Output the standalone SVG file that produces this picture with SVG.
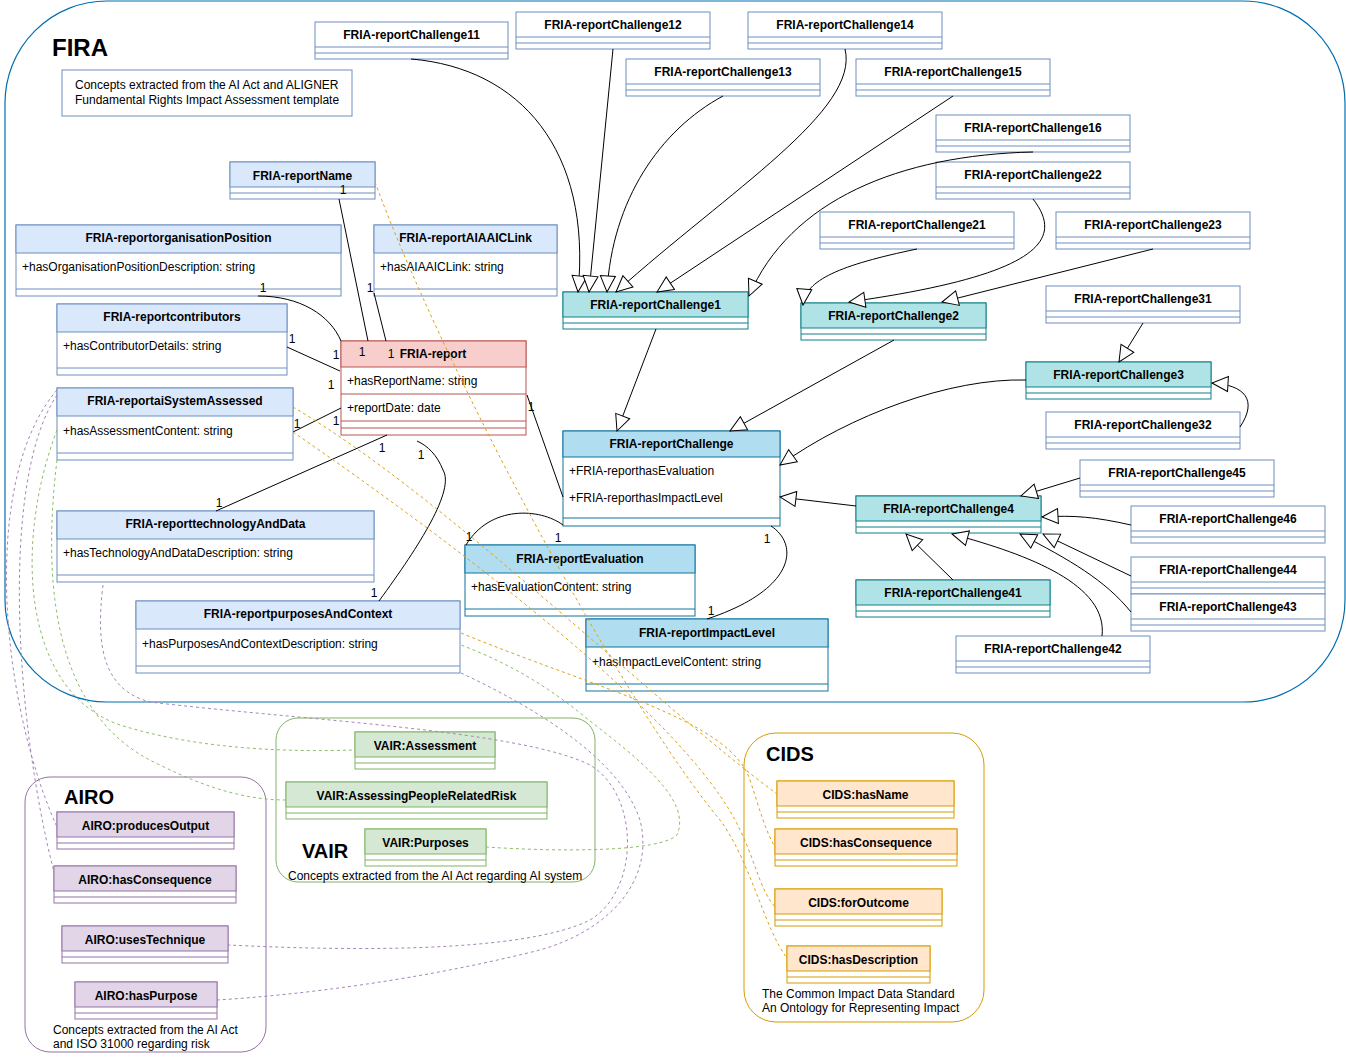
<svg xmlns="http://www.w3.org/2000/svg" width="1346" height="1057" viewBox="0 0 1346 1057">
<style>
text{font-family:"Liberation Sans",Arial,Helvetica,sans-serif;font-size:12px;fill:#000}
.n{font-weight:bold;text-anchor:middle}
.m{text-anchor:middle}
.ttl{font-weight:bold;font-size:24px}
.sttl{font-weight:bold;font-size:20px}
.bw{fill:#fff;stroke:#6c8ebf}
.sw{stroke:#6c8ebf}
.ht{fill:#b0e3e6;stroke:#0e8088}
.bt{fill:#fff;stroke:#0e8088}
.st{stroke:#0e8088}
.hb{fill:#b1ddf0;stroke:#10739e}
.bb{fill:#fff;stroke:#10739e}
.sb{stroke:#10739e}
.hl{fill:#dae8fc;stroke:#6c8ebf}
.hr{fill:#f8cecc;stroke:#b85450}
.br{fill:#fff;stroke:#b85450}
.sr{stroke:#b85450}
.hg{fill:#d5e8d4;stroke:#82b366}
.bg{fill:#fff;stroke:#82b366}
.sg{stroke:#82b366}
.hp{fill:#e1d5e7;stroke:#9673a6}
.bp{fill:#fff;stroke:#9673a6}
.sp{stroke:#9673a6}
.ho{fill:#ffe6cc;stroke:#d79b00}
.bo{fill:#fff;stroke:#d79b00}
.so{stroke:#d79b00}
.e{fill:none;stroke:#000;stroke-width:1}
.i{marker-end:url(#gen)}
.d{fill:none;stroke-width:1;stroke-dasharray:3 3}
.do{stroke:#dca21a}
.dg{stroke:#8fbd6a}
.dp{stroke:#a685ba}
</style>
<defs>
<marker id="gen" viewBox="0 0 18 18" refX="17" refY="9" markerWidth="18" markerHeight="18" markerUnits="userSpaceOnUse" orient="auto">
<path d="M1,1.5 L17,9 L1,16.5 Z" fill="#fff" stroke="#000" stroke-width="1"/>
</marker>
</defs>

<!-- ontology containers -->
<g id="fira">
<rect x="5" y="1" width="1340" height="701" rx="102" fill="none" stroke="#006eaf" stroke-width="1.2"/>
<text x="52" y="56" class="ttl">FIRA</text>
<rect x="62" y="70" width="290" height="46" class="bw"/>
<text x="75" y="89">Concepts extracted from the AI Act and ALIGNER</text>
<text x="75" y="104">Fundamental Rights Impact Assessment template</text>
</g>
<g id="vair">
<rect x="276" y="718" width="319" height="164" rx="22" fill="none" stroke="#82b366"/>
<text x="302" y="858" class="sttl">VAIR</text>
<text x="288" y="880">Concepts extracted from the AI Act regarding AI system</text>
</g>
<g id="airo">
<rect x="25" y="777" width="241" height="275" rx="25" fill="none" stroke="#9673a6"/>
<text x="64" y="804" class="sttl">AIRO</text>
<text x="53" y="1034">Concepts extracted from the AI Act</text>
<text x="53" y="1048">and ISO 31000 regarding risk</text>
</g>
<g id="cids">
<rect x="744" y="733" width="240" height="289" rx="32" fill="none" stroke="#d79b00"/>
<text x="766" y="761" class="sttl">CIDS</text>
<text x="762" y="998">The Common Impact Data Standard</text>
<text x="762" y="1012">An Ontology for Representing Impact</text>
</g>

<!-- challenge classes (white) -->
<g id="challenge11"><rect x="315" y="22" width="193" height="37" class="bw"/><path d="M315,47H508M315,53H508" class="sw"/><text x="411.5" y="39" class="n">FRIA-reportChallenge11</text></g>
<g id="challenge12"><rect x="516" y="12" width="194" height="37" class="bw"/><path d="M516,37H710M516,43H710" class="sw"/><text x="613" y="29" class="n">FRIA-reportChallenge12</text></g>
<g id="challenge14"><rect x="748" y="12" width="194" height="37" class="bw"/><path d="M748,37H942M748,43H942" class="sw"/><text x="845" y="29" class="n">FRIA-reportChallenge14</text></g>
<g id="challenge13"><rect x="626" y="59" width="194" height="37" class="bw"/><path d="M626,84H820M626,90H820" class="sw"/><text x="723" y="76" class="n">FRIA-reportChallenge13</text></g>
<g id="challenge15"><rect x="856" y="59" width="194" height="37" class="bw"/><path d="M856,84H1050M856,90H1050" class="sw"/><text x="953" y="76" class="n">FRIA-reportChallenge15</text></g>
<g id="challenge16"><rect x="936" y="115" width="194" height="37" class="bw"/><path d="M936,140H1130M936,146H1130" class="sw"/><text x="1033" y="132" class="n">FRIA-reportChallenge16</text></g>
<g id="challenge22"><rect x="936" y="162" width="194" height="37" class="bw"/><path d="M936,187H1130M936,193H1130" class="sw"/><text x="1033" y="179" class="n">FRIA-reportChallenge22</text></g>
<g id="challenge21"><rect x="820" y="212" width="194" height="37" class="bw"/><path d="M820,237H1014M820,243H1014" class="sw"/><text x="917" y="229" class="n">FRIA-reportChallenge21</text></g>
<g id="challenge23"><rect x="1056" y="212" width="194" height="37" class="bw"/><path d="M1056,237H1250M1056,243H1250" class="sw"/><text x="1153" y="229" class="n">FRIA-reportChallenge23</text></g>
<g id="challenge31"><rect x="1046" y="286" width="194" height="37" class="bw"/><path d="M1046,311H1240M1046,317H1240" class="sw"/><text x="1143" y="303" class="n">FRIA-reportChallenge31</text></g>
<g id="challenge32"><rect x="1046" y="412" width="194" height="37" class="bw"/><path d="M1046,437H1240M1046,443H1240" class="sw"/><text x="1143" y="429" class="n">FRIA-reportChallenge32</text></g>
<g id="challenge45"><rect x="1080" y="460" width="194" height="37" class="bw"/><path d="M1080,485H1274M1080,491H1274" class="sw"/><text x="1177" y="477" class="n">FRIA-reportChallenge45</text></g>
<g id="challenge46"><rect x="1131" y="506" width="194" height="37" class="bw"/><path d="M1131,531H1325M1131,537H1325" class="sw"/><text x="1228" y="523" class="n">FRIA-reportChallenge46</text></g>
<g id="challenge44"><rect x="1131" y="557" width="194" height="37" class="bw"/><path d="M1131,582H1325M1131,588H1325" class="sw"/><text x="1228" y="574" class="n">FRIA-reportChallenge44</text></g>
<g id="challenge43"><rect x="1131" y="594" width="194" height="37" class="bw"/><path d="M1131,619H1325M1131,625H1325" class="sw"/><text x="1228" y="611" class="n">FRIA-reportChallenge43</text></g>
<g id="challenge42"><rect x="956" y="636" width="194" height="37" class="bw"/><path d="M956,661H1150M956,667H1150" class="sw"/><text x="1053" y="653" class="n">FRIA-reportChallenge42</text></g>

<!-- challenge categories (teal) -->
<g id="challenge1"><rect x="563" y="292" width="185" height="37" class="bt"/><rect x="563" y="292" width="185" height="25" class="ht"/><path d="M563,323H748" class="st"/><text x="655.5" y="309" class="n">FRIA-reportChallenge1</text></g>
<g id="challenge2"><rect x="801" y="303" width="185" height="37" class="bt"/><rect x="801" y="303" width="185" height="25" class="ht"/><path d="M801,334H986" class="st"/><text x="893.5" y="320" class="n">FRIA-reportChallenge2</text></g>
<g id="challenge3"><rect x="1026" y="362" width="185" height="37" class="bt"/><rect x="1026" y="362" width="185" height="25" class="ht"/><path d="M1026,393H1211" class="st"/><text x="1118.5" y="379" class="n">FRIA-reportChallenge3</text></g>
<g id="challenge4"><rect x="856" y="496" width="185" height="37" class="bt"/><rect x="856" y="496" width="185" height="25" class="ht"/><path d="M856,527H1041" class="st"/><text x="948.5" y="513" class="n">FRIA-reportChallenge4</text></g>
<g id="challenge41"><rect x="856" y="580" width="194" height="37" class="bt"/><rect x="856" y="580" width="194" height="25" class="ht"/><path d="M856,611H1050" class="st"/><text x="953" y="597" class="n">FRIA-reportChallenge41</text></g>

<!-- report core -->
<g id="reportChallenge"><rect x="563" y="431" width="217" height="95" class="bb"/><rect x="563" y="431" width="217" height="26" class="hb"/><path d="M563,518H780" class="sb"/><text x="671.5" y="448" class="n">FRIA-reportChallenge</text><text x="569" y="475">+FRIA-reporthasEvaluation</text><text x="569" y="502">+FRIA-reporthasImpactLevel</text></g>
<g id="reportEvaluation"><rect x="465" y="545" width="230" height="71" class="bb"/><rect x="465" y="545" width="230" height="28" class="hb"/><path d="M465,609H695" class="sb"/><text x="580" y="563" class="n">FRIA-reportEvaluation</text><text x="471" y="591">+hasEvaluationContent: string</text></g>
<g id="reportImpactLevel"><rect x="586" y="619" width="242" height="72" class="bb"/><rect x="586" y="619" width="242" height="28" class="hb"/><path d="M586,684H828" class="sb"/><text x="707" y="637" class="n">FRIA-reportImpactLevel</text><text x="592" y="666">+hasImpactLevelContent: string</text></g>
<g id="report"><rect x="341" y="341" width="185" height="94" class="br"/><rect x="341" y="341" width="185" height="26" class="hr"/><path d="M341,394H526M341,421H526M341,428H526" class="sr"/><text x="433" y="358" class="n">FRIA-report</text><text x="347" y="385">+hasReportName: string</text><text x="347" y="412">+reportDate: date</text></g>

<!-- report parts (light blue) -->
<g id="reportName"><rect x="230" y="162" width="145" height="37" class="bw"/><rect x="230" y="162" width="145" height="25" class="hl"/><path d="M230,193H375" class="sw"/><text x="302.5" y="180" class="n">FRIA-reportName</text></g>
<g id="reportOrganisationPosition"><rect x="16" y="225" width="325" height="71" class="bw"/><rect x="16" y="225" width="325" height="28" class="hl"/><path d="M16,289H341" class="sw"/><text x="178.5" y="242" class="n">FRIA-reportorganisationPosition</text><text x="22" y="271">+hasOrganisationPositionDescription: string</text></g>
<g id="reportAIAAICLink"><rect x="374" y="225" width="183" height="71" class="bw"/><rect x="374" y="225" width="183" height="28" class="hl"/><path d="M374,289H557" class="sw"/><text x="465.5" y="242" class="n">FRIA-reportAIAAICLink</text><text x="380" y="271">+hasAIAAICLink: string</text></g>
<g id="reportContributors"><rect x="57" y="304" width="230" height="71" class="bw"/><rect x="57" y="304" width="230" height="28" class="hl"/><path d="M57,368H287" class="sw"/><text x="172" y="321" class="n">FRIA-reportcontributors</text><text x="63" y="350">+hasContributorDetails: string</text></g>
<g id="reportAiSystemAssessed"><rect x="57" y="388" width="236" height="72" class="bw"/><rect x="57" y="388" width="236" height="28" class="hl"/><path d="M57,453H293" class="sw"/><text x="175" y="405" class="n">FRIA-reportaiSystemAssessed</text><text x="63" y="435">+hasAssessmentContent: string</text></g>
<g id="reportTechnologyAndData"><rect x="57" y="511" width="317" height="71" class="bw"/><rect x="57" y="511" width="317" height="28" class="hl"/><path d="M57,575H374" class="sw"/><text x="215.5" y="528" class="n">FRIA-reporttechnologyAndData</text><text x="63" y="557">+hasTechnologyAndDataDescription: string</text></g>
<g id="reportPurposesAndContext"><rect x="136" y="601" width="324" height="72" class="bw"/><rect x="136" y="601" width="324" height="28" class="hl"/><path d="M136,666H460" class="sw"/><text x="298" y="618" class="n">FRIA-reportpurposesAndContext</text><text x="142" y="648">+hasPurposesAndContextDescription: string</text></g>

<!-- VAIR concepts -->
<g id="vairAssessment"><rect x="355" y="732" width="140" height="37" class="bg"/><rect x="355" y="732" width="140" height="25" class="hg"/><path d="M355,763H495" class="sg"/><text x="425" y="750" class="n">VAIR:Assessment</text></g>
<g id="vairAssessingPeopleRelatedRisk"><rect x="286" y="782" width="261" height="37" class="bg"/><rect x="286" y="782" width="261" height="25" class="hg"/><path d="M286,813H547" class="sg"/><text x="416.5" y="800" class="n">VAIR:AssessingPeopleRelatedRisk</text></g>
<g id="vairPurposes"><rect x="365" y="829" width="121" height="37" class="bg"/><rect x="365" y="829" width="121" height="25" class="hg"/><path d="M365,860H486" class="sg"/><text x="425.5" y="847" class="n">VAIR:Purposes</text></g>

<!-- AIRO concepts -->
<g id="airoProducesOutput"><rect x="57" y="812" width="177" height="37" class="bp"/><rect x="57" y="812" width="177" height="25" class="hp"/><path d="M57,843H234" class="sp"/><text x="145.5" y="830" class="n">AIRO:producesOutput</text></g>
<g id="airoHasConsequence"><rect x="54" y="866" width="182" height="37" class="bp"/><rect x="54" y="866" width="182" height="25" class="hp"/><path d="M54,897H236" class="sp"/><text x="145" y="884" class="n">AIRO:hasConsequence</text></g>
<g id="airoUsesTechnique"><rect x="62" y="926" width="166" height="37" class="bp"/><rect x="62" y="926" width="166" height="25" class="hp"/><path d="M62,957H228" class="sp"/><text x="145" y="944" class="n">AIRO:usesTechnique</text></g>
<g id="airoHasPurpose"><rect x="75" y="982" width="142" height="37" class="bp"/><rect x="75" y="982" width="142" height="25" class="hp"/><path d="M75,1013H217" class="sp"/><text x="146" y="1000" class="n">AIRO:hasPurpose</text></g>

<!-- CIDS concepts -->
<g id="cidsHasName"><rect x="777" y="781" width="177" height="37" class="bo"/><rect x="777" y="781" width="177" height="25" class="ho"/><path d="M777,812H954" class="so"/><text x="865.5" y="799" class="n">CIDS:hasName</text></g>
<g id="cidsHasConsequence"><rect x="775" y="829" width="182" height="37" class="bo"/><rect x="775" y="829" width="182" height="25" class="ho"/><path d="M775,860H957" class="so"/><text x="866" y="847" class="n">CIDS:hasConsequence</text></g>
<g id="cidsForOutcome"><rect x="775" y="889" width="167" height="37" class="bo"/><rect x="775" y="889" width="167" height="25" class="ho"/><path d="M775,920H942" class="so"/><text x="858.5" y="907" class="n">CIDS:forOutcome</text></g>
<g id="cidsHasDescription"><rect x="787" y="946" width="143" height="37" class="bo"/><rect x="787" y="946" width="143" height="25" class="ho"/><path d="M787,977H930" class="so"/><text x="858.5" y="964" class="n">CIDS:hasDescription</text></g>

<!-- connectors -->
<g id="connectors">
<!-- generalisation -->
<path class="e i" d="M411,59 C520,68 592,150 578,292"/>
<path class="e i" d="M613,49 L589,292"/>
<path class="e i" d="M723,96 C660,130 612,200 607,292"/>
<path class="e i" d="M845,49 C860,110 730,190 616,292"/>
<path class="e i" d="M953,96 L657,292"/>
<path class="e i" d="M1033,152 C900,155 790,200 749,296"/>
<path class="e i" d="M917,249 C840,265 805,280 803,305"/>
<path class="e i" d="M1033,199 C1065,240 1040,275 849,302"/>
<path class="e i" d="M1153,249 L942,302"/>
<path class="e i" d="M656,329 L617,431"/>
<path class="e i" d="M894,340 L730,431"/>
<path class="e i" d="M1026,380 C950,378 850,415 780,465"/>
<path class="e i" d="M856,506 L780,497"/>
<path class="e i" d="M1143,323 L1119,362"/>
<path class="e i" d="M1240,427 C1258,400 1245,385 1212,383"/>
<path class="e i" d="M1080,478 L1021,496"/>
<path class="e i" d="M1131,525 C1095,517 1075,515 1042,517"/>
<path class="e i" d="M1131,576 L1043,534"/>
<path class="e i" d="M1131,612 C1105,580 1070,560 1020,534"/>
<path class="e i" d="M1102,636 C1108,585 1030,555 952,534"/>
<path class="e i" d="M953,580 L906,534"/>
<!-- associations -->
<path class="e" d="M339,199 L368,341"/>
<path class="e" d="M374,293 L386,341"/>
<path class="e" d="M258,296 C300,296 330,315 341,341"/>
<path class="e" d="M287,347 L340,371"/>
<path class="e" d="M293,432 L341,408"/>
<path class="e" d="M216,511 L387,435"/>
<path class="e" d="M379,601 C420,545 455,490 443,470 C437,455 428,446 417,441"/>
<path class="e" d="M527,395 L563,497"/>
<path class="e" d="M563,525 C540,508 490,505 466,545"/>
<path class="e" d="M771,526 C800,545 795,590 707,619"/>
<!-- CIDS mappings -->
<path class="d do" d="M375,182 C440,360 620,700 720,820 C750,860 765,930 787,958"/>
<path class="d do" d="M293,407 C450,500 650,700 777,794"/>
<path class="d do" d="M293,432 C450,540 690,720 740,830 C755,860 760,890 775,907"/>
<path class="d do" d="M461,633 C600,690 730,720 750,780 C760,810 765,830 775,847"/>
<!-- VAIR mappings -->
<path class="d dg" d="M57,430 C15,540 20,690 120,725 C200,750 290,752 355,750"/>
<path class="d dg" d="M57,460 C40,600 60,720 160,765 C210,790 250,800 286,800"/>
<path class="d dg" d="M486,847 C560,852 660,852 677,835 C692,800 640,760 585,717 C540,680 500,660 461,645"/>
<!-- AIRO mappings -->
<path class="d dp" d="M57,390 C-20,480 0,700 57,827"/>
<path class="d dp" d="M57,395 C0,480 15,720 54,872"/>
<path class="d dp" d="M103,585 C95,650 105,690 150,702 C300,720 520,730 590,765 C640,795 640,890 590,920 C520,955 330,950 228,945"/>
<path class="d dp" d="M461,673 C540,710 620,760 640,820 C655,880 610,930 540,950 C420,980 300,995 217,1000"/>
</g>

<!-- multiplicities -->
<g id="multiplicities">
<text x="343" y="194" class="m">1</text>
<text x="263" y="292" class="m">1</text>
<text x="370" y="292" class="m">1</text>
<text x="292" y="343" class="m">1</text>
<text x="336" y="359" class="m">1</text>
<text x="362" y="356" class="m">1</text>
<text x="391" y="358" class="m">1</text>
<text x="331" y="389" class="m">1</text>
<text x="297" y="428" class="m">1</text>
<text x="336" y="425" class="m">1</text>
<text x="531" y="411" class="m">1</text>
<text x="382" y="452" class="m">1</text>
<text x="421" y="459" class="m">1</text>
<text x="219" y="507" class="m">1</text>
<text x="374" y="597" class="m">1</text>
<text x="469" y="541" class="m">1</text>
<text x="558" y="542" class="m">1</text>
<text x="767" y="543" class="m">1</text>
<text x="711" y="615" class="m">1</text>
</g>
</svg>
